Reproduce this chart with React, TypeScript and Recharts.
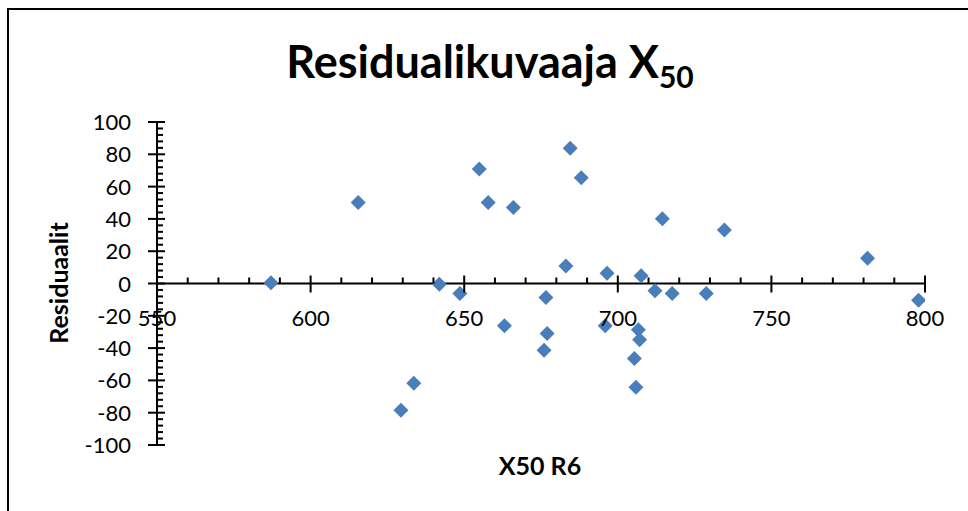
import React from 'react';
import { ScatterChart, Scatter, XAxis, YAxis, ReferenceLine } from 'recharts';

// ---- data ----
const xValues = [
  587.1, 615.5, 629.4, 633.6, 641.9, 648.6, 654.9, 657.8, 666.0, 663.1,
  676.6, 677.0, 676.0, 684.5, 683.1, 688.1, 696.5, 695.9, 707.6, 706.7,
  707.1, 705.4, 705.9, 712.1, 717.7, 714.5, 728.8, 734.7, 781.3, 797.9,
];
const residuals = [
  0.5, 50.2, -78.5, -61.7, -0.4, -6.2, 70.9, 50.2, 47.1, -26.2,
  -8.7, -31.0, -41.3, 83.7, 10.8, 65.5, 6.4, -26.2, 4.8, -28.7,
  -34.9, -46.5, -64.2, -4.5, -6.2, 40.1, -6.2, 33.1, 15.7, -10.3,
];

const xMajorTicks = [550, 600, 650, 700, 750, 800];
const yMajorTicks = [-100, -80, -60, -40, -20, 0, 20, 40, 60, 80, 100];
const xMinorStep = 10;
const yMinorStep = 4;

const titleMain = 'Residualikuvaaja X';
const titleSub = '50';
const xTitle = 'X50 R6';
const yTitle = 'Residuaalit';

// ---- layout ----
const W = 968;
const H = 511;
const X_AXIS_H = 30;
const M = { top: 122, right: 43, bottom: 36, left: 0 };
const Y_AXIS_W = 157;
const PLOT_H = H - M.top - M.bottom - X_AXIS_H;
const FONT = 'Lato, "Open Sans", sans-serif';
const MARK = '#4A7EBB';

const buildTicks = (lo: number, hi: number, step: number) => {
  const out: number[] = [];
  for (let v = lo; v <= hi + 1e-9; v += step) out.push(Math.round(v));
  return out;
};
const xTicks = buildTicks(xMajorTicks[0], xMajorTicks[xMajorTicks.length - 1], xMinorStep);
const yTicks = buildTicks(yMajorTicks[0], yMajorTicks[yMajorTicks.length - 1], yMinorStep);

const data = xValues.map((x, i) => ({ x, y: residuals[i] }));

const XTick = (props: any) => {
  const { x, y, payload } = props;
  const v = payload.value;
  const zeroY = y - PLOT_H / 2;
  const major = xMajorTicks.includes(v);
  return (
    <g>
      {major ? (
        <line x1={x} x2={x} y1={zeroY - 8} y2={zeroY + 9} stroke="#000" strokeWidth={2} />
      ) : (
        <line x1={x} x2={x} y1={zeroY - 6} y2={zeroY} stroke="#000" strokeWidth={2} />
      )}
      {major && (
        <text x={x} y={zeroY + 42} textAnchor="middle" fontFamily={FONT} fontSize={22} fill="#000">
          {v}
        </text>
      )}
    </g>
  );
};

const YTick = (props: any) => {
  const { x, y, payload } = props;
  const v = payload.value;
  const major = yMajorTicks.includes(v);
  return (
    <g>
      {major ? (
        <line x1={x - 9} x2={x + 8} y1={y} y2={y} stroke="#000" strokeWidth={2} />
      ) : (
        <line x1={x} x2={x + 6} y1={y} y2={y} stroke="#000" strokeWidth={2} />
      )}
      {major && (
        <text x={x - 26} y={y + 8} textAnchor="end" fontFamily={FONT} fontSize={22} fill="#000">
          {v}
        </text>
      )}
    </g>
  );
};

const Diamond = (props: any) => {
  const { cx, cy } = props;
  const r = 7.5;
  return (
    <path
      d={`M${cx},${cy - r}L${cx + r},${cy}L${cx},${cy + r}L${cx - r},${cy}Z`}
      fill={MARK}
    />
  );
};

export default function App() {
  return (
    <div
      style={{
        position: 'absolute',
        left: 0,
        top: 0,
        width: W,
        height: H,
        overflow: 'hidden',
        background: '#fff',
      }}
    >
      <div
        style={{
          position: 'absolute',
          left: 7,
          top: 8,
          width: 1000,
          height: 600,
          border: '2px solid #000',
        }}
      />
      <div style={{ position: 'absolute', left: 0, top: 0 }}>
        <ScatterChart width={W} height={H} margin={M}>
          <XAxis
            type="number"
            dataKey="x"
            domain={[550, 800]}
            ticks={xTicks}
            interval={0}
            allowDataOverflow
            axisLine={false}
            tickLine={false}
            tickSize={0}
            tickMargin={0}
            tick={<XTick />}
            height={X_AXIS_H}
          />
          <YAxis
            type="number"
            dataKey="y"
            domain={[-100, 100]}
            ticks={yTicks}
            interval={0}
            allowDataOverflow
            axisLine={{ stroke: '#000', strokeWidth: 2 }}
            tickLine={false}
            tickSize={0}
            tickMargin={0}
            tick={<YTick />}
            width={Y_AXIS_W}
          />
          <ReferenceLine y={0} stroke="#000" strokeWidth={2} />
          <Scatter data={data} shape={<Diamond />} isAnimationActive={false} />
        </ScatterChart>
      </div>
      <svg
        width={W}
        height={H}
        style={{ position: 'absolute', left: 0, top: 0, pointerEvents: 'none' }}
      >
        <text x={490} y={78} textAnchor="middle" fontFamily={FONT} fontWeight="bold" fontSize={45} fill="#000">
          {titleMain}
          <tspan fontSize={30} dy={10}>{titleSub}</tspan>
        </text>
        <text
          x={540}
          y={475}
          textAnchor="middle"
          fontFamily={FONT}
          fontWeight="bold"
          fontSize={25}
          fill="#000"
        >
          {xTitle}
        </text>
        <text
          x={68}
          y={283}
          textAnchor="middle"
          fontFamily={FONT}
          fontWeight="bold"
          fontSize={25}
          fill="#000"
          transform="rotate(-90 68 283)"
        >
          {yTitle}
        </text>
      </svg>
    </div>
  );
}
